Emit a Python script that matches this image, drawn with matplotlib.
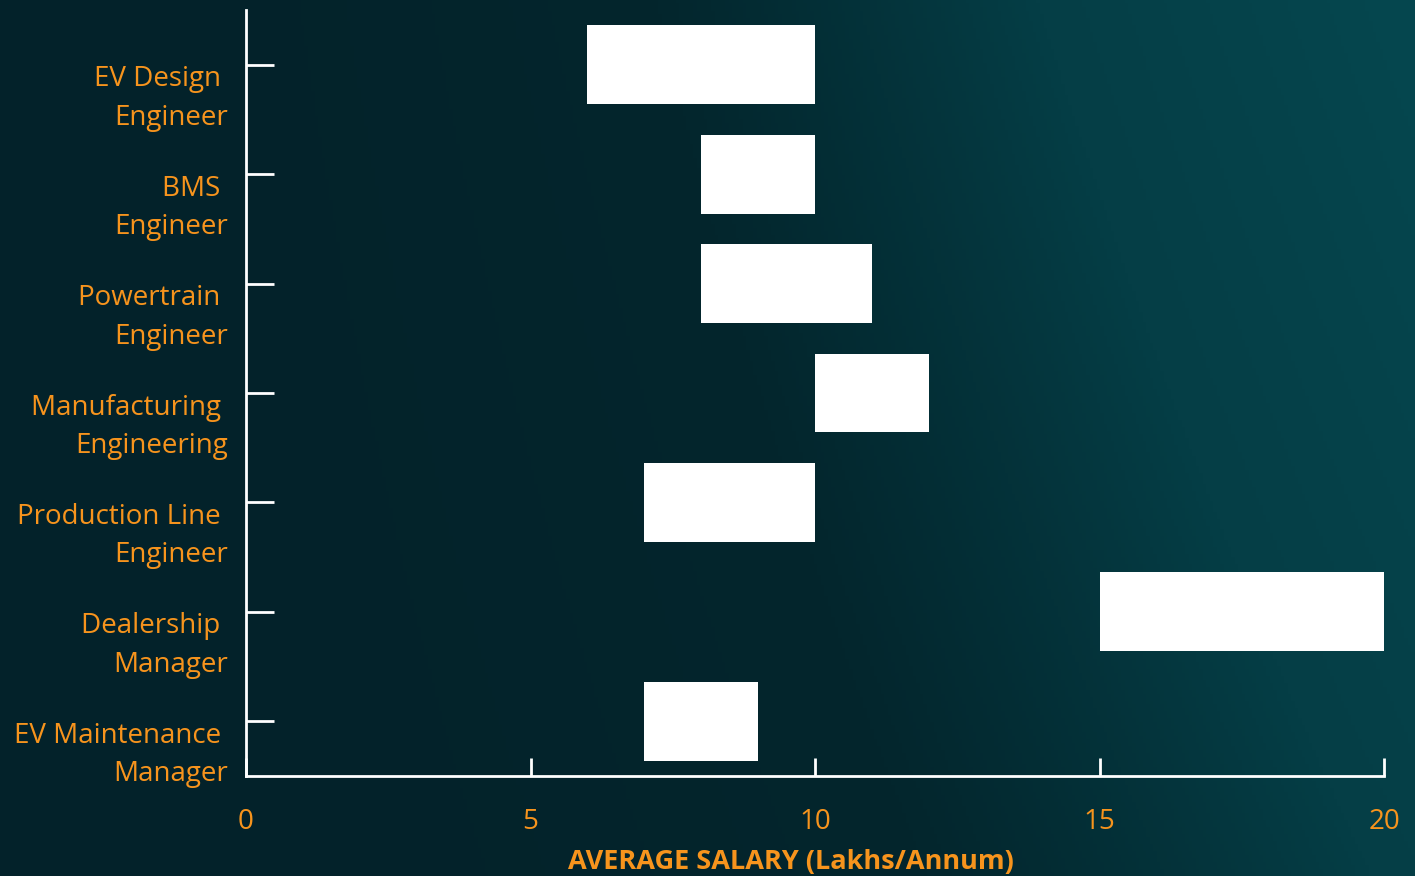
import matplotlib.pyplot as plt
import matplotlib.transforms as mtransforms
import numpy as np
from matplotlib.colors import LinearSegmentedColormap

# salary ranges (Lakhs/Annum)
roles = ['EV Design \nEngineer', 'BMS \nEngineer', 'Powertrain \nEngineer',
         'Manufacturing \nEngineering', 'Production Line \nEngineer',
         'Dealership \nManager', 'EV Maintenance \nManager']
salary_min = [6, 8, 8, 10, 7, 15, 7]
salary_max = [10, 10, 11, 12, 10, 20, 9]
xticks = [0, 5, 10, 15, 20]

orange = '#F7941D'
plt.rcParams['font.family'] = ['Open Sans', 'DejaVu Sans']

fig = plt.figure(figsize=(14.15, 8.76), dpi=100)

# gradient background
bg = fig.add_axes([0, 0, 1, 1], zorder=-10)
xx, yy = np.meshgrid(np.linspace(0, 1, 400), np.linspace(1, 0, 250))
t = np.clip(0.75 * xx ** 1.6 + 0.35 * yy * xx - 0.05, 0, 1)
cmap = LinearSegmentedColormap.from_list('bg', ['#03222a', '#03262d', '#053e46', '#05464e'])
bg.imshow(t, cmap=cmap, aspect='auto', extent=[0, 1, 0, 1], vmin=0, vmax=1)
bg.axis('off')

ax = fig.add_axes([246 / 1415, 100 / 876, 1138 / 1415, 766 / 876])
ax.patch.set_alpha(0)

y = np.arange(len(roles))
widths = [b - a for a, b in zip(salary_min, salary_max)]
ax.barh(y, widths, left=salary_min, height=0.72, color='white')

ax.set_xlim(0, 20)
ax.set_ylim(len(roles) - 0.5, -0.5)
ax.set_xticks(xticks)
ax.set_xticklabels([str(v) for v in xticks])
ax.set_yticks(y)
ax.set_yticklabels(roles, linespacing=1.5, ha='right', multialignment='right')

for s in ['top', 'right']:
    ax.spines[s].set_visible(False)
for s in ['left', 'bottom']:
    ax.spines[s].set_color('white')
    ax.spines[s].set_linewidth(2)

ax.tick_params(axis='y', direction='in', length=20, width=2, color='white',
               labelcolor=orange, labelsize=20, pad=13)
ax.tick_params(axis='x', direction='in', length=13, width=2, color='white',
               labelcolor=orange, labelsize=20, pad=23)

# move the y labels down a bit, like in the original
offset = mtransforms.ScaledTranslation(0, -0.25, fig.dpi_scale_trans)
for lab in ax.get_yticklabels():
    lab.set_transform(lab.get_transform() + offset)

ax.set_xlabel('AVERAGE SALARY (Lakhs/Annum)', color=orange, fontsize=19.5,
              fontweight='bold')
ax.xaxis.set_label_coords(545 / 1138, -0.095)

fig.savefig('out.png', dpi=100)
